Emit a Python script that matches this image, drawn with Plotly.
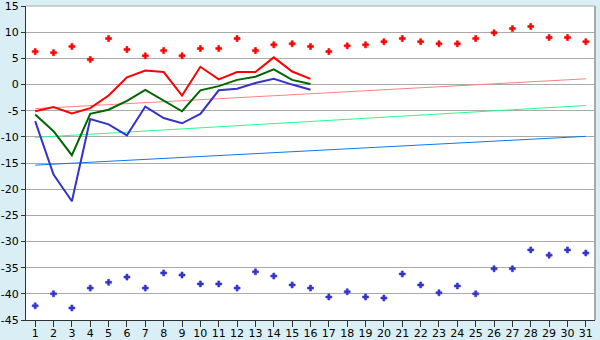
import plotly.graph_objects as go

days = list(range(1, 32))
line_days = list(range(1, 17))

red_points = [6.3, 6.1, 7.3, 4.8, 8.8, 6.7, 5.5, 6.5, 5.5, 6.9, 6.9, 8.8, 6.5, 7.6, 7.8, 7.3,
              6.3, 7.4, 7.6, 8.2, 8.8, 8.2, 7.8, 7.8, 8.8, 9.9, 10.7, 11.1, 9.0, 9.0, 8.2]
blue_points = [-42.3, -40.0, -42.7, -38.9, -37.8, -36.8, -38.9, -36.0, -36.4, -38.1, -38.1,
               -38.9, -35.8, -36.6, -38.3, -38.9, -40.6, -39.6, -40.6, -40.8, -36.2, -38.3,
               -39.8, -38.5, -40.0, -35.2, -35.2, -31.6, -32.6, -31.6, -32.2]

red_line = [-5.1, -4.3, -5.5, -4.5, -2.1, 1.4, 2.7, 2.4, -2.1, 3.4, 1.0, 2.4, 2.4, 5.2, 2.5, 1.1]
green_line = [-5.7, -8.9, -13.5, -5.6, -4.8, -3.1, -1.0, -3.1, -5.1, -1.1, -0.3, 0.9, 1.5, 2.9, 0.9, 0.1]
blue_line = [-7.0, -17.2, -22.3, -6.6, -7.6, -9.7, -4.2, -6.4, -7.4, -5.6, -1.1, -0.8, 0.3, 1.1, 0.0, -1.0]

trend_days = [1, 31]
trend_red = [-4.6, 1.1]
trend_green = [-10.1, -4.0]
trend_blue = [-15.4, -9.9]

y_ticks = list(range(-45, 20, 5))
y_labels = [str(v) for v in y_ticks]

fig = go.Figure()

fig.add_trace(go.Scatter(x=trend_days, y=trend_red, mode="lines", line=dict(color="#ff8080", width=1)))
fig.add_trace(go.Scatter(x=trend_days, y=trend_green, mode="lines", line=dict(color="#22ff88", width=1)))
fig.add_trace(go.Scatter(x=trend_days, y=trend_blue, mode="lines", line=dict(color="#0a78f0", width=1)))

fig.add_trace(go.Scatter(x=line_days, y=red_line, mode="lines", line=dict(color="#ff0000", width=2)))
fig.add_trace(go.Scatter(x=line_days, y=green_line, mode="lines", line=dict(color="#006600", width=2)))
fig.add_trace(go.Scatter(x=line_days, y=blue_line, mode="lines", line=dict(color="#3333cc", width=2)))

fig.add_trace(go.Scatter(x=days, y=red_points, mode="markers",
                         marker=dict(symbol="cross", size=5, color="#ff0000",
                                     line=dict(width=0.6, color="#ff0000"))))
fig.add_trace(go.Scatter(x=days, y=blue_points, mode="markers",
                         marker=dict(symbol="cross", size=5, color="#3333cc",
                                     line=dict(width=0.6, color="#3333cc"))))

fig.update_layout(
    template="none",
    width=600, height=340,
    margin=dict(l=26, r=5, t=6, b=20, autoexpand=False),
    paper_bgcolor="#daeff5",
    plot_bgcolor="#ffffff",
    showlegend=False,
    font=dict(family="DejaVu Sans", size=11, color="#000000"),
    xaxis=dict(
        range=[0.5, 31.5], tickmode="array", tickvals=days, ticktext=[str(d) for d in days],
        showgrid=False, zeroline=False, showline=True, linecolor="#333333", linewidth=1,
        ticks="outside", ticklen=6, tickcolor="#333333", tickwidth=1, automargin=False,
        ticklabelstandoff=-3, tickfont=dict(size=11),
    ),
    yaxis=dict(
        range=[-45, 15.02], tickmode="array", tickvals=y_ticks, ticktext=y_labels,
        showgrid=True, gridcolor="#aaaaaa", gridwidth=1, zeroline=False,
        showline=True, linecolor="#333333", linewidth=1,
        ticks="outside", ticklen=4, tickcolor="#333333", tickwidth=1,
        automargin=False, ticklabeloverflow="allow",
    ),
    shapes=[
        dict(type="line", xref="paper", yref="paper", x0=1, x1=1, y0=0, y1=1,
             line=dict(color="#aaaaaa", width=2)),
        dict(type="line", xref="paper", yref="paper", x0=0, x1=1, y0=1, y1=1,
             line=dict(color="#aaaaaa", width=1)),
    ],
)

fig.write_html("out.html")
